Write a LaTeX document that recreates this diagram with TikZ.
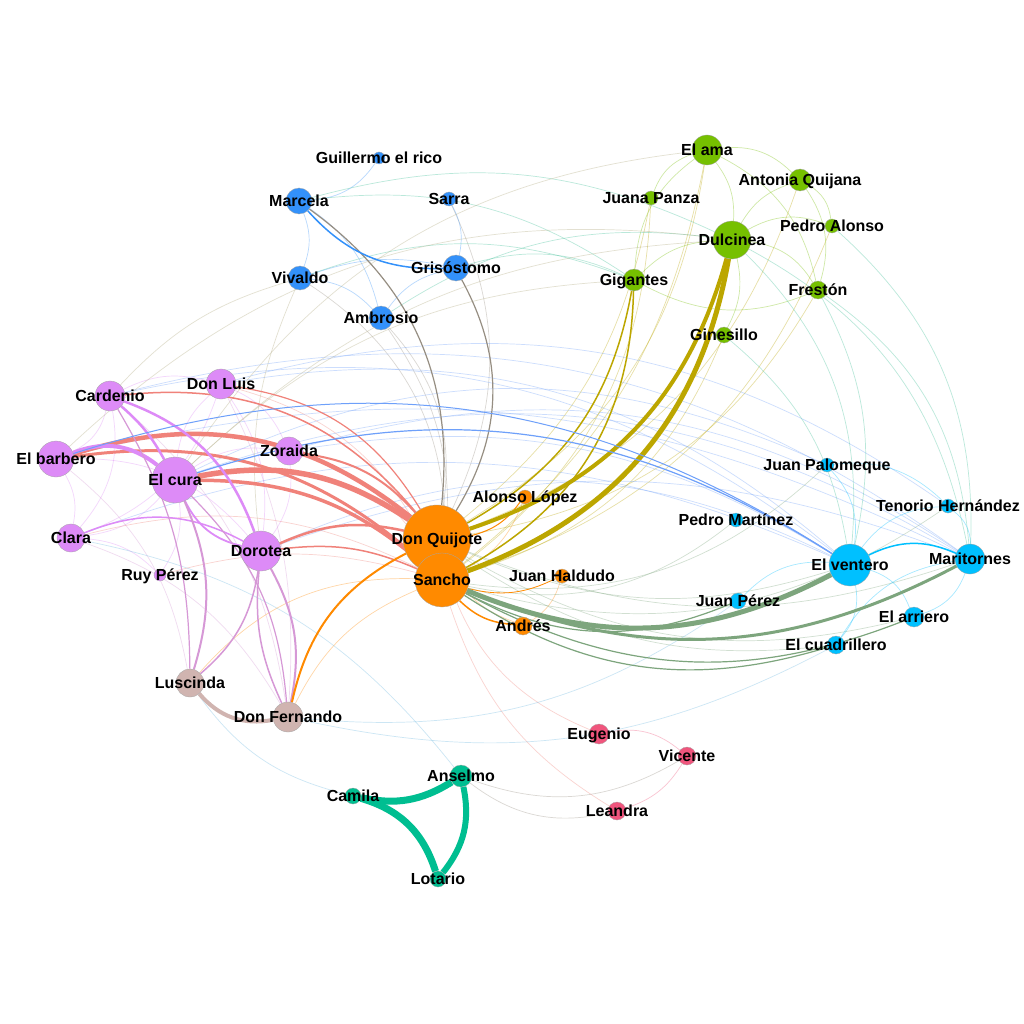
\documentclass[tikz,border=0pt]{standalone}
\usepackage{fontspec}
\setmainfont{Liberation Sans}
\usetikzlibrary{positioning}
\definecolor{cpurple}{RGB}{221,139,247}
\definecolor{corange}{RGB}{255,138,0}
\definecolor{cblue}{RGB}{51,145,250}
\definecolor{cgreen}{RGB}{118,192,0}
\definecolor{ccyan}{RGB}{0,192,255}
\definecolor{cbrown}{RGB}{208,180,176}
\definecolor{cteal}{RGB}{0,190,145}
\definecolor{cpink}{RGB}{240,85,125}
\definecolor{esalmon}{RGB}{240,130,122}
\definecolor{eolive}{RGB}{188,166,0}
\definecolor{egreen}{RGB}{125,165,125}
\definecolor{emauve}{RGB}{214,152,214}
\definecolor{egray}{RGB}{150,142,130}
\definecolor{eviolet}{RGB}{110,160,250}
\definecolor{ebeige}{RGB}{175,168,125}
\definecolor{esea}{RGB}{60,190,150}
\definecolor{esky}{RGB}{110,185,225}
\pgfdeclarelayer{edges}
\pgfsetlayers{edges,main}

\begin{document}
\begin{tikzpicture}[x=1pt, y=-1pt,
    person/.style={circle, draw=black!35, line width=0.3pt, inner sep=0pt},
    lab/.style={font=\bfseries\fontsize{16}{16}\selectfont, inner sep=0pt, text height=11.5pt, text depth=0pt},
    faint/.style={opacity=0.35},
]
    \useasboundingbox (0,0) rectangle (1024,1024);
    % Purple group
    \foreach \n/\px/\py/\sz/\txt in {cardenio/110/396/30/Cardenio, donluis/221/384/30/Don Luis,
        barbero/56/459/36/El barbero, cura/175/480/46/El cura, zoraida/289/451/28/Zoraida,
        clara/71/538/28/Clara, dorotea/261/551/40/Dorotea, ruy/160/575/12/Ruy Pérez}
        \node[person, fill=cpurple, minimum size=\sz, label={[lab]center:\txt}] (\n) at (\px,\py) {};
    % Blue group
    \foreach \n/\px/\py/\sz/\txt in {guillermo/379/158/12/Guillermo el rico, marcela/299/201/26/Marcela,
        sarra/449/199/14/Sarra, grisostomo/456/268/26/Grisóstomo, vivaldo/300/278/24/Vivaldo,
        ambrosio/381/318/24/Ambrosio}
        \node[person, fill=cblue, minimum size=\sz, label={[lab]center:\txt}] (\n) at (\px,\py) {};
    % Green group
    \foreach \n/\px/\py/\sz/\txt in {ama/707/150/30/El ama, antonia/800/180/22/Antonia Quijana,
        juana/651/198/14/Juana Panza, pedroal/832/226/14/Pedro Alonso, dulcinea/732/240/38/Dulcinea,
        gigantes/634/280/22/Gigantes, freston/818/290/18/Frestón, ginesillo/724/335/16/Ginesillo}
        \node[person, fill=cgreen, minimum size=\sz, label={[lab]center:\txt}] (\n) at (\px,\py) {};
    % Cyan group
    \foreach \n/\px/\py/\sz/\txt in {palomeque/827/465/14/Juan Palomeque, tenorio/948/506/14/Tenorio Hernández,
        pmartinez/736/520/14/Pedro Martínez, ventero/850/565/42/El ventero, maritornes/970/559/30/Maritornes,
        jperez/738/601/16/Juan Pérez, arriero/914/617/20/El arriero, cuadrillero/836/645/18/El cuadrillero}
        \node[person, fill=ccyan, minimum size=\sz, label={[lab]center:\txt}] (\n) at (\px,\py) {};
    % Small groups
    \foreach \n/\px/\py/\sz/\txt/\col in {luscinda/190/683/28/Luscinda/cbrown, fernando/288/717/30/Don Fernando/cbrown,
        anselmo/461/776/22/Anselmo/cteal, camila/353/796/16/Camila/cteal, lotario/438/879/16/Lotario/cteal,
        eugenio/599/734/20/Eugenio/cpink, vicente/687/756/18/Vicente/cpink, leandra/617/811/18/Leandra/cpink}
        \node[person, fill=\col, minimum size=\sz, label={[lab]center:\txt}] (\n) at (\px,\py) {};
    % Orange group
    \foreach \n/\px/\py/\sz/\txt in {alonso/525/497/14/Alonso López, haldudo/562/576/14/Juan Haldudo,
        andres/523/626/18/Andrés, dq/437/539/68/Don Quijote, sancho/442/580/54/Sancho}
        \node[person, fill=corange, minimum size=\sz, label={[lab]center:\txt}] (\n) at (\px,\py) {};

    \begin{pgfonlayer}{edges}
    \fill[white] (0,0) rectangle (1024,1024);
    % faint links
    \foreach \a/\b/\k/\col in {cardenio/barbero/25/cpurple, cardenio/clara/25/cpurple, barbero/clara/20/cpurple,
        donluis/zoraida/20/cpurple, donluis/clara/25/cpurple, cura/zoraida/20/cpurple, cura/clara/20/cpurple,
        cura/donluis/20/cpurple, cardenio/donluis/20/cpurple, barbero/dorotea/25/cpurple, cura/ruy/20/cpurple,
        clara/ruy/20/cpurple, donluis/dorotea/20/cpurple, zoraida/dorotea/20/cpurple, barbero/luscinda/20/emauve,
        cardenio/fernando/20/emauve, clara/fernando/20/emauve, donluis/fernando/15/emauve,
        clara/sancho/20/esalmon, ruy/sancho/15/esalmon, donluis/sancho/25/esalmon, zoraida/sancho/20/esalmon,
        luscinda/sancho/25/corange, fernando/sancho/20/corange, andres/dq/20/corange, haldudo/andres/20/corange,
        alonso/sancho/20/corange, leandra/sancho/20/esalmon, eugenio/dq/25/esalmon,
        ama/sancho/20/eolive, juana/sancho/25/eolive, antonia/dq/25/eolive, pedroal/sancho/25/eolive,
        freston/dq/25/eolive, ginesillo/sancho/25/eolive, ama/dq/25/eolive, juana/dq/20/eolive,
        vivaldo/sancho/30/egray, ambrosio/dq/25/egray, sarra/dq/25/egray, ambrosio/sancho/20/egray,
        tenorio/sancho/25/egreen, palomeque/sancho/25/egreen, pmartinez/sancho/25/egreen,
        maritornes/dq/20/egreen, cuadrillero/dq/20/egreen, arriero/dq/22/egreen, ventero/dq/20/egreen,
        cardenio/maritornes/25/eviolet, donluis/ventero/25/eviolet, dorotea/ventero/25/eviolet,
        zoraida/maritornes/25/eviolet, cura/maritornes/25/eviolet, barbero/maritornes/20/eviolet,
        cura/palomeque/25/eviolet, cardenio/ventero/25/eviolet, donluis/tenorio/25/eviolet,
        dorotea/maritornes/20/eviolet, clara/ventero/22/eviolet, zoraida/ventero/20/eviolet,
        ventero/arriero/25/ccyan, ventero/cuadrillero/25/ccyan, jperez/ventero/25/ccyan,
        palomeque/ventero/25/ccyan, ventero/tenorio/25/ccyan, maritornes/arriero/25/ccyan,
        tenorio/maritornes/25/ccyan, cuadrillero/maritornes/25/ccyan, palomeque/tenorio/25/ccyan,
        marcela/vivaldo/20/cblue, marcela/ambrosio/20/cblue, vivaldo/ambrosio/20/cblue,
        ambrosio/grisostomo/20/cblue, sarra/grisostomo/20/cblue, guillermo/marcela/25/cblue,
        vivaldo/grisostomo/15/cblue,
        ama/antonia/25/cgreen, ama/dulcinea/20/cgreen, juana/ama/25/cgreen, gigantes/ama/25/cgreen,
        antonia/pedroal/25/cgreen, antonia/freston/25/cgreen, dulcinea/freston/25/cgreen,
        dulcinea/pedroal/25/cgreen, gigantes/dulcinea/20/cgreen, freston/gigantes/25/cgreen,
        dulcinea/ginesillo/20/cgreen, dulcinea/antonia/20/cgreen, ama/freston/25/cgreen,
        freston/maritornes/25/esea, dulcinea/ventero/25/esea, freston/ventero/20/esea,
        ginesillo/ventero/20/esea, dulcinea/maritornes/25/esea, pedroal/maritornes/25/esea,
        marcela/dulcinea/20/esea, grisostomo/gigantes/20/esea, vivaldo/gigantes/20/esea,
        ambrosio/dulcinea/20/esea, marcela/gigantes/20/esea,
        cura/ama/25/ebeige, vivaldo/cardenio/-15/ebeige, cura/dulcinea/20/ebeige, barbero/dulcinea/25/ebeige,
        cura/gigantes/20/ebeige, vivaldo/dorotea/-15/ebeige,
        fernando/jperez/-20/esky, camila/luscinda/20/esky, anselmo/clara/-20/esky, fernando/cuadrillero/-20/esky,
        eugenio/vicente/25/cpink, vicente/leandra/20/cpink, anselmo/leandra/-25/egray, anselmo/vicente/-25/egray}
        \draw[\col, faint, line width=0.7, bend left=\k] (\a) to (\b);
    % strong links between the purple group and the pair
    \foreach \a/\b/\w/\k in {barbero/dq/4.5/28, barbero/sancho/3/25, cura/dq/5.5/22, cura/sancho/3.5/20,
        zoraida/dq/2/20, cardenio/dq/1.5/28, dorotea/dq/2.5/18, dorotea/sancho/1.5/15, donluis/dq/1.2/25}
        \draw[esalmon, line width=\w, bend left=\k] (\a) to (\b);
    \foreach \a/\b/\w/\k in {barbero/cura/4/30, cardenio/cura/2.5/10, cardenio/dorotea/2.5/25,
        dorotea/cura/1.8/25, clara/dorotea/1.5/25}
        \draw[cpurple, line width=\w, bend left=\k] (\a) to (\b);
    \foreach \a/\b/\w/\k in {cura/luscinda/2/20, dorotea/luscinda/1.5/20, dorotea/fernando/2/20,
        fernando/dorotea/1.5/15, cura/fernando/1.2/20, cardenio/luscinda/1.2/15}
        \draw[emauve, line width=\w, bend left=\k] (\a) to (\b);
    \draw[cbrown, line width=4, bend left=30] (fernando) to (luscinda);
    % orange and olive links
    \foreach \a/\b/\w/\k in {fernando/dq/2/25, andres/sancho/1.5/20, alonso/dq/1/20, haldudo/sancho/0.8/20}
        \draw[corange, line width=\w, bend left=\k] (\a) to (\b);
    \foreach \a/\b/\w/\k in {dulcinea/dq/4/28, dulcinea/sancho/5/30, gigantes/dq/1.5/25, gigantes/sancho/1.5/30}
        \draw[eolive, line width=\w, bend left=\k] (\a) to (\b);
    \foreach \a/\b/\w/\k in {marcela/dq/1.2/30, grisostomo/dq/1.2/30}
        \draw[egray, line width=\w, bend left=\k] (\a) to (\b);
    % the inn
    \foreach \a/\b/\w/\k in {ventero/sancho/5/25, maritornes/sancho/3/25, cuadrillero/sancho/1.2/25,
        arriero/sancho/1.2/25, jperez/sancho/1.2/25}
        \draw[egreen, line width=\w, bend left=\k] (\a) to (\b);
    \foreach \a/\b/\w/\k in {cura/ventero/1.2/25, barbero/ventero/1/25}
        \draw[eviolet, line width=\w, bend left=\k] (\a) to (\b);
    \draw[ccyan, line width=1.5, bend left=25] (ventero) to (maritornes);
    \draw[cblue, line width=1.5, bend left=25] (grisostomo) to (marcela);
    % Anselmo, Camila, Lotario
    \foreach \a/\b/\w/\k in {anselmo/camila/7/22, camila/lotario/7/28, anselmo/lotario/6/25}
        \draw[cteal, line width=\w, bend left=\k] (\a) to (\b);
    \end{pgfonlayer}
\end{tikzpicture}
\end{document}
